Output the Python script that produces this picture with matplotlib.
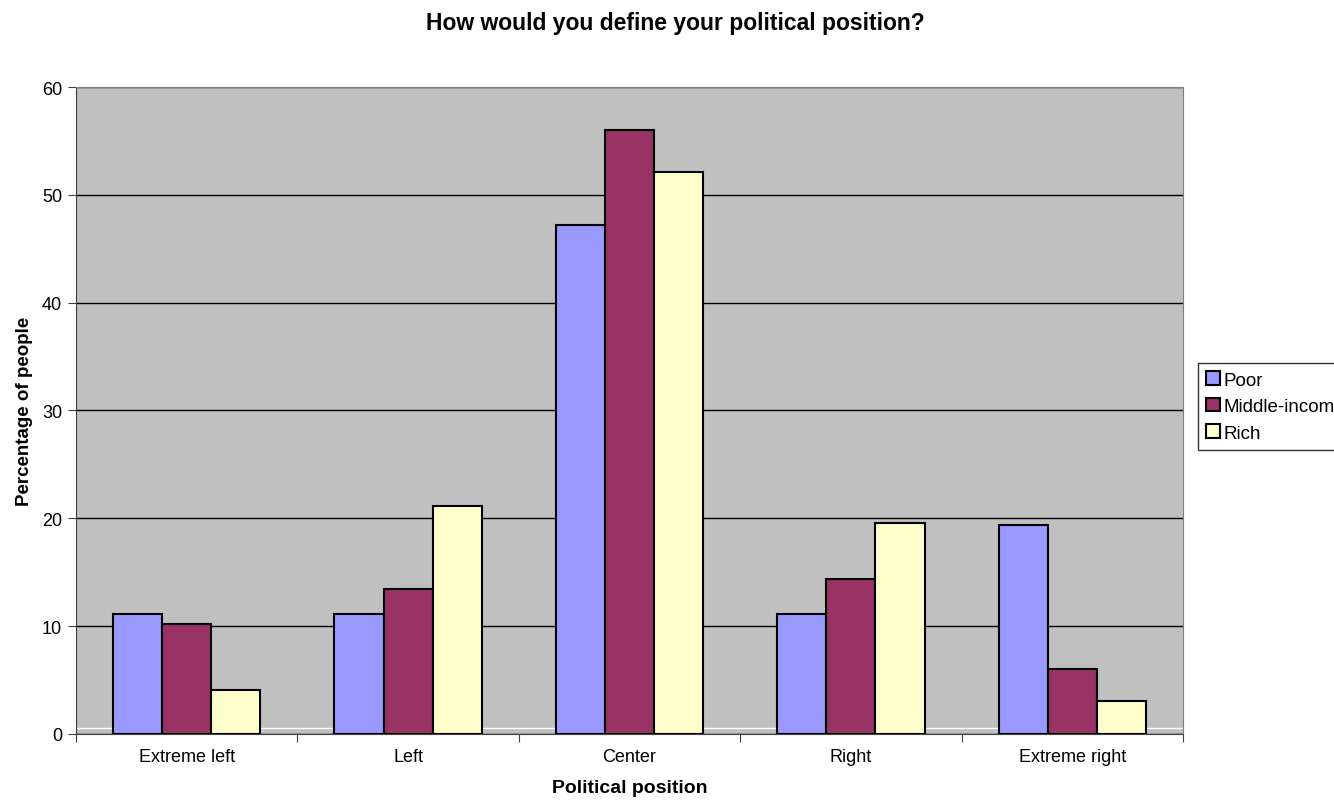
import numpy as np
import matplotlib.pyplot as plt

plt.rcParams['font.family'] = ['Liberation Sans', 'DejaVu Sans']

categories = ["Extreme left", "Left", "Center", "Right", "Extreme right"]
poor = [11.1, 11.1, 47.2, 11.1, 19.4]
middle = [10.2, 13.4, 56.0, 14.4, 6.0]
rich = [4.1, 21.1, 52.1, 19.6, 3.1]
series_names = ["Poor", "Middle-incom", "Rich"]
colors = ["#9999FF", "#993366", "#FFFFCC"]

fig = plt.figure(figsize=(13.34, 8.03), dpi=100)
ax = fig.add_axes([0.057, 0.0847, 0.8298, 0.8057])
ax.set_facecolor("#C0C0C0")

x = np.arange(len(categories))
w = 0.222
for i, (vals, name, c) in enumerate(zip([poor, middle, rich], series_names, colors)):
    ax.bar(x + (i - 1) * w, vals, width=w, color=c, edgecolor="black",
           linewidth=1.5, label=name, zorder=3)

ax.set_xlim(-0.5, len(categories) - 0.5)
ax.set_ylim(0, 60)
ax.set_yticks(range(0, 61, 10))
ax.yaxis.grid(True, color="black", linewidth=1, zorder=1)
ax.axhline(0.6, color="white", linewidth=1, zorder=2)

# category boundaries as major ticks, labels on minor ticks
ax.set_xticks(np.arange(-0.5, len(categories), 1))
ax.set_xticklabels([])
ax.set_xticks(x, minor=True)
ax.set_xticklabels(categories, minor=True)
ax.tick_params(axis="x", which="major", length=6, direction="out", color="#404040")
ax.tick_params(axis="x", which="minor", length=0, pad=10, labelsize=13)
ax.tick_params(axis="y", length=6, direction="out", labelsize=13, pad=4, color="#404040")

for s in ["top", "right"]:
    ax.spines[s].set_color("#808080")
for s in ["left", "bottom"]:
    ax.spines[s].set_color("#404040")

ax.set_xlabel("Political position", fontsize=14, fontweight="bold", labelpad=10)
ax.set_ylabel("Percentage of people", fontsize=13.5, fontweight="bold")
ax.yaxis.set_label_coords(-0.039, 0.5)
fig.suptitle("How would you define your political position?", x=0.506, y=0.985,
             fontsize=16.5, fontweight="bold", va="top")

leg = fig.legend(loc="upper left", bbox_to_anchor=(1198 / 1334, 1 - 364 / 803),
                 fontsize=13.5, frameon=True, fancybox=False, edgecolor="black",
                 handlelength=0.7, handleheight=0.7, handletextpad=0.2,
                 borderpad=0.45, labelspacing=0.5, borderaxespad=0)
leg.get_frame().set_linewidth(1)

fig.savefig("out.png", dpi=100)
